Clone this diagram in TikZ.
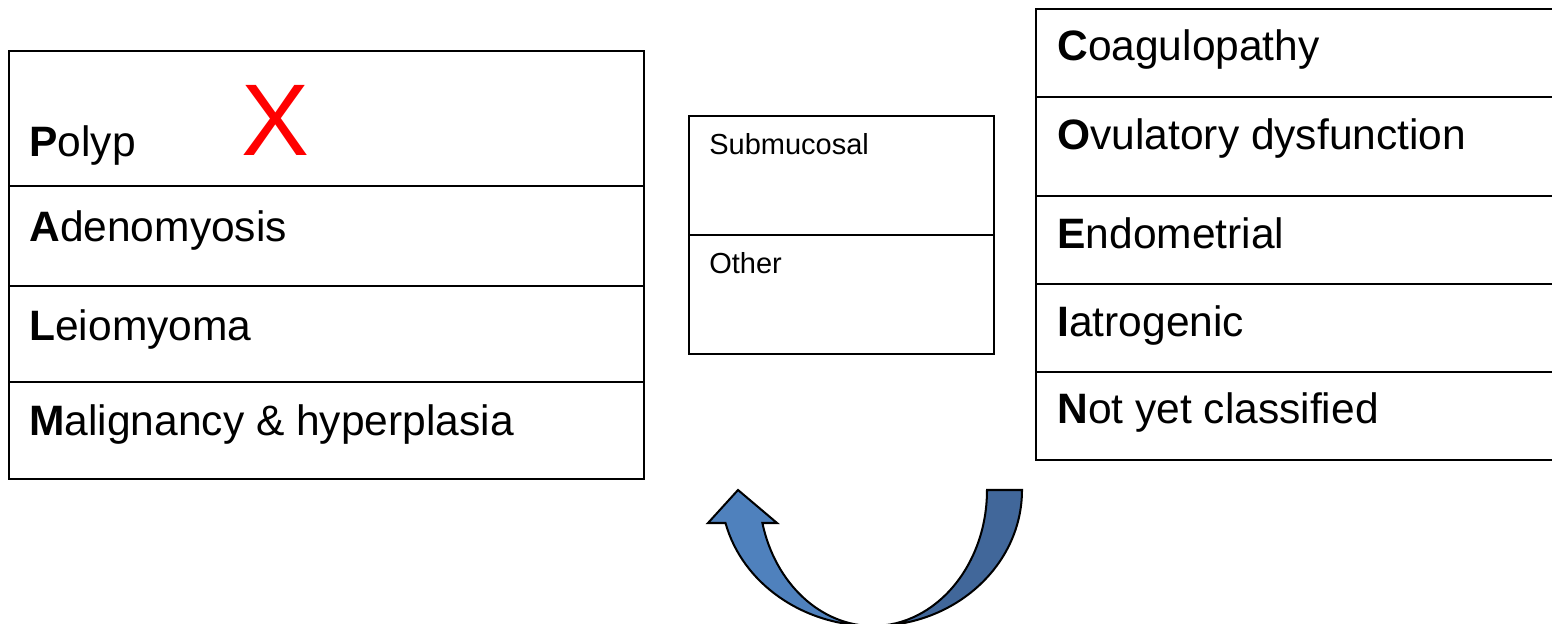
\documentclass[tikz,border=0pt]{standalone}
\usepackage{fontspec}
\setmainfont{Liberation Sans}

\definecolor{arrowlight}{HTML}{4F81BD}
\definecolor{arrowdark}{HTML}{41679A}

\begin{document}
\begin{tikzpicture}[
  x=0.02cm, y=-0.02cm,
  cell/.style={draw, line width=1.15pt, inner sep=0pt, outer sep=0pt},
  lbl/.style={anchor=base west, inner sep=0pt, font=\fontsize{24.2}{28}\selectfont},
  small/.style={anchor=base west, inner sep=0pt, font=\fontsize{16.5}{20}\selectfont},
  cross/.style={anchor=base, inner sep=0pt, text=red, font=\fontsize{58}{60}\selectfont},
  band/.style={draw, line width=1.15pt, line join=miter},
]
  \useasboundingbox (0,0) rectangle (1552,624);

  % ===== PALM column =====
  \node[cell, minimum width=12.7cm, minimum height=2.7cm]  (polypCell) at (326.5,118.5) {};
  \node[cell, minimum width=12.7cm, minimum height=2.0cm]  (adenoCell) at (326.5,236) {};
  \node[cell, minimum width=12.7cm, minimum height=1.92cm] (leioCell)  at (326.5,334) {};
  \node[cell, minimum width=12.7cm, minimum height=1.94cm] (maligCell) at (326.5,430.5) {};

  \node[lbl] (polypTxt) at (29,157) {\textbf{P}olyp};
  \node[cross] (polypX) at (275,156) {X};
  \node[lbl] (adenoTxt) at (29,242) {\textbf{A}denomyosis};
  \node[lbl] (leioTxt)  at (29,341) {\textbf{L}eiomyoma};
  \node[lbl] (maligTxt) at (29,436) {\textbf{M}alignancy \& hyperplasia};

  % ===== leiomyoma subtypes =====
  \node[cell, minimum width=6.1cm, minimum height=2.38cm] (submCell)  at (841.5,175.5) {};
  \node[cell, minimum width=6.1cm, minimum height=2.38cm] (otherCell) at (841.5,294.5) {};
  \node[small] (submTxt)  at (709,155) {Submucosal};
  \node[small] (otherTxt) at (709,274) {Other};

  % ===== COEIN column =====
  \node[cell, minimum width=10.52cm, minimum height=1.76cm] (coagCell) at (1299,53) {};
  \node[cell, minimum width=10.52cm, minimum height=1.98cm] (ovulCell) at (1299,146.5) {};
  \node[cell, minimum width=10.52cm, minimum height=1.76cm] (endoCell) at (1299,240) {};
  \node[cell, minimum width=10.52cm, minimum height=1.76cm] (iatrCell) at (1299,328) {};
  \node[cell, minimum width=10.52cm, minimum height=1.76cm] (notyCell) at (1299,416) {};

  \node[lbl] (coagTxt) at (1057,61)  {\textbf{C}oagulopathy};
  \node[lbl] (ovulTxt) at (1057,150) {\textbf{O}vulatory dysfunction};
  \node[lbl] (endoTxt) at (1057,249) {\textbf{E}ndometrial};
  \node[lbl] (iatrTxt) at (1057,337) {\textbf{I}atrogenic};
  \node[lbl] (notyTxt) at (1057,424) {\textbf{N}ot yet classified};

  % ===== curved up arrow =====
  \draw[band, fill=arrowdark] (1022,490) .. controls (1022,565) and (955.3,626) .. (873,626)
    .. controls (936,626) and (987,565) .. (987,490) -- cycle;
  \draw[band, fill=arrowlight] (873,626) .. controls (803.2,626) and (742.4,583.5) .. (725.5,523)
    -- (708,523) -- (738,490) -- (777,523) -- (762.4,523)
    .. controls (775.1,583.5) and (820.7,626) .. (873,626) -- cycle;
\end{tikzpicture}
\end{document}
